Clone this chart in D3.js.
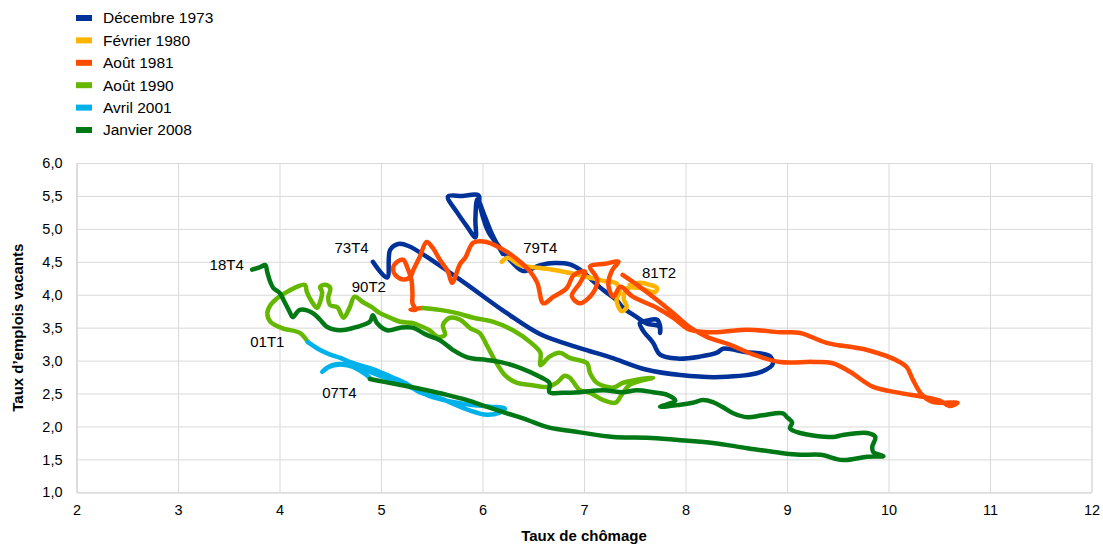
<!DOCTYPE html>
<html><head><meta charset="utf-8">
<script src="https://cdn.jsdelivr.net/npm/d3@7"></script>
<style>
body{margin:0;background:#fff;}
svg{display:block;font-family:"Liberation Sans",Arial,sans-serif;}
</style></head>
<body><svg id="c" width="1103" height="544"></svg>
<script>
const seriesNames = ["Décembre 1973","Février 1980","Août 1981","Août 1990","Avril 2001","Janvier 2008"];
const seriesColors = ["#003299","#FFB400","#FF4B00","#65B800","#00B1EA","#007816"];
const xTicks = [2,3,4,5,6,7,8,9,10,11,12];
const yTicks = [1,1.5,2,2.5,3,3.5,4,4.5,5,5.5,6];

const dec1973 = [[4.92,4.50],[5.06,4.26],[5.09,4.68],[5.17,4.77],[5.27,4.74],[5.75,4.26],[6.24,3.72],[6.57,3.40],[6.96,3.19],[7.26,3.05],[7.62,2.86],[7.95,2.78],[8.34,2.75],[8.73,2.82],[8.86,2.95],[8.83,3.07],[8.59,3.13],[8.37,3.18],[8.31,3.12],[8.14,3.06],[7.92,3.03],[7.75,3.09],[7.68,3.27],[7.58,3.46],[7.55,3.57],[7.63,3.61],[7.72,3.62],[7.75,3.52],[7.75,3.42],[7.74,3.52],[7.62,3.56],[7.52,3.66],[7.38,3.81],[7.32,3.92],[7.19,4.07],[7.06,4.25],[6.96,4.38],[6.86,4.46],[6.71,4.48],[6.57,4.45],[6.40,4.36],[6.30,4.48],[6.17,4.72],[6.06,4.95],[6.00,5.20],[5.97,5.40],[5.96,5.51],[5.80,5.50],[5.66,5.49],[5.75,5.25],[5.85,5.03],[5.93,4.87],[5.93,5.15],[5.95,5.45],[6.02,5.20],[6.10,4.90],[6.20,4.62]];
const fev1980 = [[6.19,4.50],[6.25,4.56],[6.37,4.45],[6.54,4.41],[6.69,4.38],[6.86,4.33],[7.03,4.27],[7.19,4.21],[7.32,4.17],[7.35,4.04],[7.32,3.92],[7.37,3.75],[7.42,3.81],[7.39,3.95],[7.43,4.10],[7.55,4.10],[7.70,4.04],[7.72,4.10],[7.65,4.15],[7.55,4.18],[7.45,4.15]];
const aou1981 = [[7.38,4.30],[7.55,4.12],[7.72,3.92],[7.88,3.72],[8.04,3.51],[8.21,3.36],[8.44,3.24],[8.67,3.09],[8.93,2.98],[9.26,2.98],[9.45,2.96],[9.62,2.83],[9.85,2.60],[10.11,2.51],[10.34,2.45],[10.51,2.39],[10.60,2.31],[10.68,2.36],[10.44,2.37],[10.33,2.48],[10.24,2.71],[10.18,2.90],[10.11,2.98],[9.79,3.16],[9.39,3.27],[9.13,3.42],[8.93,3.43],[8.61,3.47],[8.27,3.43],[8.04,3.47],[7.88,3.65],[7.72,3.80],[7.48,3.97],[7.36,4.12],[7.29,3.97],[7.24,4.15],[7.28,4.38],[7.34,4.50],[7.21,4.47],[7.06,4.43],[7.13,4.23],[7.09,4.03],[6.96,3.87],[6.88,3.98],[6.96,4.18],[7.01,4.35],[6.90,4.30],[6.83,4.10],[6.70,3.97],[6.60,3.87],[6.54,4.18],[6.47,4.35],[6.37,4.50],[6.24,4.65],[6.04,4.80],[5.91,4.79],[5.83,4.56],[5.78,4.47],[5.70,4.18],[5.66,4.35],[5.58,4.53],[5.51,4.71],[5.45,4.80],[5.38,4.57],[5.32,4.38],[5.29,4.27],[5.22,4.23],[5.14,4.30],[5.12,4.41],[5.16,4.50],[5.22,4.53],[5.26,4.41],[5.30,4.22],[5.31,4.00],[5.31,3.87],[5.34,3.77],[5.29,3.78],[5.41,3.80]];
const aou1990 = [[5.41,3.80],[5.58,3.77],[5.75,3.72],[5.91,3.65],[6.10,3.59],[6.30,3.46],[6.47,3.28],[6.57,3.12],[6.57,2.93],[6.66,3.06],[6.76,3.12],[6.86,3.04],[7.03,2.96],[7.06,2.81],[7.13,2.66],[7.29,2.59],[7.38,2.66],[7.52,2.71],[7.68,2.74],[7.45,2.63],[7.37,2.48],[7.31,2.36],[7.19,2.40],[7.06,2.51],[6.96,2.55],[6.86,2.74],[6.81,2.77],[6.73,2.66],[6.64,2.60],[6.47,2.63],[6.34,2.66],[6.22,2.78],[6.12,3.01],[6.04,3.24],[5.97,3.42],[5.88,3.49],[5.78,3.62],[5.68,3.65],[5.61,3.54],[5.63,3.39],[5.56,3.36],[5.48,3.46],[5.41,3.51],[5.31,3.57],[5.19,3.59],[5.09,3.65],[4.99,3.72],[4.91,3.81],[4.82,3.89],[4.74,3.97],[4.69,3.80],[4.63,3.65],[4.57,3.81],[4.50,3.84],[4.48,3.95],[4.50,4.10],[4.45,4.15],[4.40,4.12],[4.42,4.04],[4.40,3.89],[4.37,3.80],[4.32,3.89],[4.27,4.04],[4.25,4.15],[4.17,4.12],[4.07,4.04],[3.98,3.95],[3.91,3.84],[3.88,3.72],[3.91,3.59],[4.03,3.49],[4.20,3.42],[4.28,3.28]];
const avr2001 = [[4.28,3.28],[4.40,3.16],[4.50,3.09],[4.60,3.04],[4.69,2.98],[4.81,2.92],[4.94,2.86],[5.09,2.76],[5.24,2.66],[5.38,2.52],[5.58,2.43],[5.73,2.33],[5.88,2.24],[6.02,2.18],[6.17,2.21],[6.22,2.27],[6.07,2.30],[5.88,2.33],[5.68,2.38],[5.48,2.46],[5.34,2.56],[5.19,2.66],[5.04,2.74],[4.89,2.83],[4.74,2.90],[4.60,2.94],[4.48,2.90],[4.42,2.83],[4.52,2.93],[4.66,2.94],[4.80,2.84],[4.89,2.74]];
const jan2008 = [[4.89,2.72],[5.02,2.68],[5.26,2.61],[5.45,2.55],[5.65,2.48],[5.85,2.40],[6.04,2.30],[6.24,2.20],[6.44,2.10],[6.64,1.99],[6.96,1.91],[7.29,1.84],[7.62,1.83],[7.95,1.79],[8.27,1.75],[8.61,1.67],[8.93,1.60],[9.13,1.57],[9.33,1.57],[9.55,1.49],[9.79,1.54],[9.95,1.55],[9.85,1.61],[9.84,1.69],[9.87,1.84],[9.79,1.90],[9.55,1.87],[9.45,1.84],[9.13,1.90],[9.03,1.97],[9.05,2.06],[9.00,2.14],[8.96,2.20],[8.76,2.17],[8.61,2.14],[8.47,2.20],[8.37,2.29],[8.27,2.37],[8.17,2.40],[8.07,2.36],[7.95,2.33],[7.75,2.30],[7.90,2.39],[7.82,2.48],[7.68,2.52],[7.52,2.55],[7.38,2.52],[7.19,2.55],[6.96,2.52],[6.79,2.51],[6.66,2.52],[6.66,2.66],[6.57,2.75],[6.37,2.89],[6.17,2.98],[6.04,3.01],[5.85,3.05],[5.71,3.16],[5.58,3.31],[5.45,3.39],[5.31,3.50],[5.19,3.50],[5.06,3.46],[4.96,3.57],[4.92,3.69],[4.89,3.59],[4.76,3.51],[4.60,3.46],[4.47,3.51],[4.40,3.62],[4.33,3.72],[4.20,3.77],[4.13,3.66],[4.10,3.74],[4.05,3.89],[4.00,4.03],[3.94,4.10],[3.91,4.19],[3.88,4.34],[3.86,4.45],[3.81,4.42],[3.73,4.38]];
const seriesData = [dec1973,fev1980,aou1981,aou1990,avr2001,jan2008];

const annoText = ["73T4","79T4","81T2","90T2","18T4","01T1","07T4"];
const annoX = [4.71,6.57,7.74,4.88,3.48,3.88,4.59];
const annoY = [4.72,4.72,4.33,4.12,4.45,3.28,2.51];

const svg = d3.select("#c");
const L=76.5, R=1091.5, T=163, B=492.3;
const x = d3.scaleLinear().domain([2,12]).range([L,R]);
const y = d3.scaleLinear().domain([1,6]).range([B,T]);

// grid + axes
const gx = svg.append("g").attr("transform",`translate(0,${B})`)
  .call(d3.axisBottom(x).tickValues(xTicks).tickSize(-(B-T)).tickPadding(12).tickFormat(d=>String(d)));
const gy = svg.append("g").attr("transform",`translate(${L},0)`)
  .call(d3.axisLeft(y).tickValues(yTicks).tickSize(-(R-L)).tickPadding(14).tickFormat(d=>d.toFixed(1).replace(".",",")));
[gx,gy].forEach(g=>{
  g.select(".domain").attr("stroke","#d9d9d9");
  g.selectAll(".tick line").attr("stroke","#d9d9d9").attr("stroke-width",1);
  g.selectAll(".tick text").attr("fill","#000").style("font-size","14.5px").style("font-family","'Liberation Sans',Arial,sans-serif");
});

// lines
const line = d3.line().x(d=>x(d[0])).y(d=>y(d[1])).curve(d3.curveCatmullRom.alpha(0.5));
seriesData.forEach((s,i)=>{
  svg.append("path").datum(s).attr("d",line).attr("fill","none")
    .attr("stroke",seriesColors[i]).attr("stroke-width",4.5)
    .attr("stroke-linejoin","round").attr("stroke-linecap","round");
});

// annotations
annoText.forEach((t,i)=>{
  svg.append("text").attr("x",x(annoX[i])).attr("y",y(annoY[i])).attr("dy","0.35em")
    .attr("text-anchor","middle").style("font-size","15px").attr("fill","#000").text(t);
});

// legend
const lg = svg.append("g");
seriesNames.forEach((n,i)=>{
  const yy = 18 + i*22.4;
  lg.append("rect").attr("x",76).attr("y",yy-3).attr("width",16).attr("height",6).attr("fill",seriesColors[i]);
  lg.append("text").attr("x",103).attr("y",yy).attr("dy","0.35em").style("font-size","15.5px").attr("fill","#000").text(n);
});

// axis titles
svg.append("text").attr("x",(L+R)/2).attr("y",541).attr("text-anchor","middle")
  .style("font-size","15px").style("font-weight","bold").text("Taux de chômage");
svg.append("text").attr("transform",`translate(23,${(T+B)/2}) rotate(-90)`).attr("text-anchor","middle")
  .style("font-size","15px").style("font-weight","bold").text("Taux d\u2019emplois vacants");
</script></body></html>
